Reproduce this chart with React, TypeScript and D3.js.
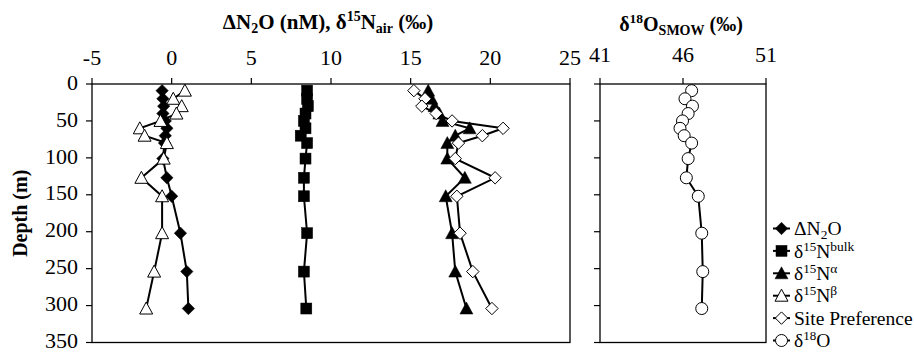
import React from "react";
import * as d3 from "d3";

const depths = [9, 20, 30, 40, 50, 60, 70, 80, 101, 127, 152, 202, 254, 304];
const deltaN2O = [-0.6, -0.55, -0.5, -0.55, -0.4, -0.3, -0.4, -0.45, -0.55, -0.3, 0.0, 0.55, 0.95, 1.05];
const d15Nbulk = [8.5, 8.5, 8.55, 8.4, 8.3, 8.4, 8.1, 8.5, 8.4, 8.3, 8.3, 8.5, 8.3, 8.45];
const d15Nalpha = [16.1, 16.3, 16.5, 16.8, 17.0, 18.7, 17.8, 17.3, 17.3, 18.4, 17.2, 17.6, 17.8, 18.5];
const d15Nbeta = [0.83, 0.1, 0.63, 0.3, -0.7, -2.0, -1.7, -0.3, -0.5, -1.9, -0.6, -0.6, -1.1, -1.6];
const sitePref = [15.2, 15.9, 15.7, 16.6, 17.6, 20.8, 19.5, 18.0, 17.8, 20.3, 17.9, 18.1, 18.9, 20.1];
const d18O = [46.52, 46.12, 46.57, 46.31, 45.97, 45.82, 46.07, 46.52, 46.31, 46.2, 46.92, 47.13, 47.19, 47.13];

const leftTicks = [-5, 0, 5, 10, 15, 20, 25];
const rightTicks = [41, 46, 51];
const depthTicks = [0, 50, 100, 150, 200, 250, 300, 350];

const FONT = "Liberation Serif";

type MarkerKind = "diamond" | "square" | "triangle" | "otriangle" | "odiamond" | "circle";

function Marker({ kind, x, y }: { kind: MarkerKind; x: number; y: number }) {
  const filled = kind === "diamond" || kind === "square" || kind === "triangle";
  const fill = filled ? "#000" : "#fff";
  const stroke = "#000";
  const sw = filled ? 0.5 : 1;
  if (kind === "diamond" || kind === "odiamond") {
    const r = 6.2;
    return <path d={`M${x},${y - r}L${x + r},${y}L${x},${y + r}L${x - r},${y}Z`} fill={fill} stroke={stroke} strokeWidth={sw} />;
  }
  if (kind === "square") {
    const s = 11;
    return <rect x={x - s / 2} y={y - s / 2} width={s} height={s} fill={fill} stroke={stroke} strokeWidth={sw} />;
  }
  if (kind === "triangle" || kind === "otriangle") {
    return <path d={`M${x},${y - 6.5}L${x + 6.5},${y + 5.5}L${x - 6.5},${y + 5.5}Z`} fill={fill} stroke={stroke} strokeWidth={sw} />;
  }
  return <circle cx={x} cy={y} r={6} fill={fill} stroke={stroke} strokeWidth={1} />;
}

export default function App() {
  const top = 84, bottom = 342.5;
  const y = d3.scaleLinear().domain([0, 350]).range([top, bottom]);
  const xL = d3.scaleLinear().domain([-5, 25]).range([92, 570]);
  const xR = d3.scaleLinear().domain([41, 51]).range([600, 766]);

  const leftSeries: { vals: number[]; kind: MarkerKind }[] = [
    { vals: deltaN2O, kind: "diamond" },
    { vals: d15Nbulk, kind: "square" },
    { vals: d15Nalpha, kind: "triangle" },
    { vals: d15Nbeta, kind: "otriangle" },
    { vals: sitePref, kind: "odiamond" },
  ];

  const lineGen = (xs: d3.ScaleLinear<number, number>) =>
    d3.line<[number, number]>().x((d) => xs(d[0])).y((d) => y(d[1]));

  const legendItems: { kind: MarkerKind; label: React.ReactNode }[] = [
    { kind: "diamond", label: <>ΔN<tspan dy={4} fontSize={13.5}>2</tspan><tspan dy={-4}>O</tspan></> },
    { kind: "square", label: <>δ<tspan dy={-7} fontSize={13}>15</tspan><tspan dy={7}>N</tspan><tspan dy={-7} fontSize={13.5}>bulk</tspan></> },
    { kind: "triangle", label: <>δ<tspan dy={-7} fontSize={13}>15</tspan><tspan dy={7}>N</tspan><tspan dy={-7} fontSize={13.5}>α</tspan></> },
    { kind: "otriangle", label: <>δ<tspan dy={-7} fontSize={13}>15</tspan><tspan dy={7}>N</tspan><tspan dy={-7} fontSize={13.5}>β</tspan></> },
    { kind: "odiamond", label: <>Site Preference</> },
    { kind: "circle", label: <>δ<tspan dy={-7} fontSize={13}>18</tspan><tspan dy={7}>O</tspan></> },
  ];

  return (
    <svg width={914} height={353} style={{ position: "absolute", left: 0, top: 0 }}>
      <rect width={914} height={353} fill="#fff" />
      <g fontFamily={FONT}>
        {/* Titles */}
        <text x={328} y={29} textAnchor="middle" fontWeight="bold" fontSize={21}>
          ΔN<tspan dy={4} fontSize={14}>2</tspan><tspan dy={-4}>O (nM), δ</tspan>
          <tspan dy={-8} fontSize={14}>15</tspan><tspan dy={8}>N</tspan>
          <tspan dy={4} fontSize={14}>air</tspan><tspan dy={-4}> (‰)</tspan>
        </text>
        <text x={681} y={31} textAnchor="middle" fontWeight="bold" fontSize={20}>
          δ<tspan dy={-8} fontSize={13.5}>18</tspan><tspan dy={8}>O</tspan>
          <tspan dy={4} fontSize={14}>SMOW</tspan><tspan dy={-4}> (‰)</tspan>
        </text>
        <text transform={`translate(27,${(top + bottom) / 2}) rotate(-90)`} textAnchor="middle" fontWeight="bold" fontSize={20}>
          Depth (m)
        </text>

        {/* Left frame and axes */}
        <rect x={xL(-5)} y={top} width={xL(25) - xL(-5)} height={bottom - top} fill="none" stroke="#000" strokeWidth={1.3} />
        {leftTicks.map((t) => (
          <g key={"lt" + t}>
            <line x1={xL(t)} x2={xL(t)} y1={top} y2={top - 6} stroke="#000" strokeWidth={1.2} />
            <text x={xL(t)} y={65} textAnchor="middle" fontSize={22}>{t}</text>
          </g>
        ))}
        {depthTicks.map((t) => (
          <g key={"dt" + t}>
            <line x1={xL(-5) - 6} x2={xL(-5)} y1={y(t)} y2={y(t)} stroke="#000" strokeWidth={1.2} />
            <text x={78} y={y(t) + 5.7} textAnchor="end" fontSize={22}>{t}</text>
          </g>
        ))}

        {/* Right frame and axes */}
        <rect x={xR(41)} y={top} width={xR(51) - xR(41)} height={bottom - top} fill="none" stroke="#000" strokeWidth={1.3} />
        {rightTicks.map((t) => (
          <g key={"rt" + t}>
            <line x1={xR(t)} x2={xR(t)} y1={top} y2={top - 6} stroke="#000" strokeWidth={1.2} />
            <text x={xR(t)} y={62} textAnchor="middle" fontSize={22}>{t}</text>
          </g>
        ))}
        {depthTicks.map((t) => (
          <line key={"rdt" + t} x1={xR(41) - 6} x2={xR(41)} y1={y(t)} y2={y(t)} stroke="#000" strokeWidth={1.2} />
        ))}

        {/* Left series */}
        {leftSeries.map((s, i) => {
          const pts = s.vals.map((v, j) => [v, depths[j]] as [number, number]);
          return (
            <g key={"s" + i}>
              <path d={lineGen(xL)(pts) || ""} fill="none" stroke="#000" strokeWidth={2} />
              {pts.map((p, j) => (
                <Marker key={j} kind={s.kind} x={xL(p[0])} y={y(p[1])} />
              ))}
            </g>
          );
        })}

        {/* Right series */}
        {(() => {
          const pts = d18O.map((v, j) => [v, depths[j]] as [number, number]);
          return (
            <g>
              <path d={lineGen(xR)(pts) || ""} fill="none" stroke="#000" strokeWidth={2} />
              {pts.map((p, j) => (
                <Marker key={j} kind="circle" x={xR(p[0])} y={y(p[1])} />
              ))}
            </g>
          );
        })()}

        {/* Legend */}
        {legendItems.map((it, i) => {
          const cy = 228.5 + i * 22.4;
          return (
            <g key={"lg" + i}>
              <line x1={773} x2={790} y1={cy} y2={cy} stroke="#000" strokeWidth={2} />
              <Marker kind={it.kind} x={781.5} y={cy} />
              <text x={794} y={cy + 6.7} fontSize={19.5}>{it.label}</text>
            </g>
          );
        })}
      </g>
    </svg>
  );
}
